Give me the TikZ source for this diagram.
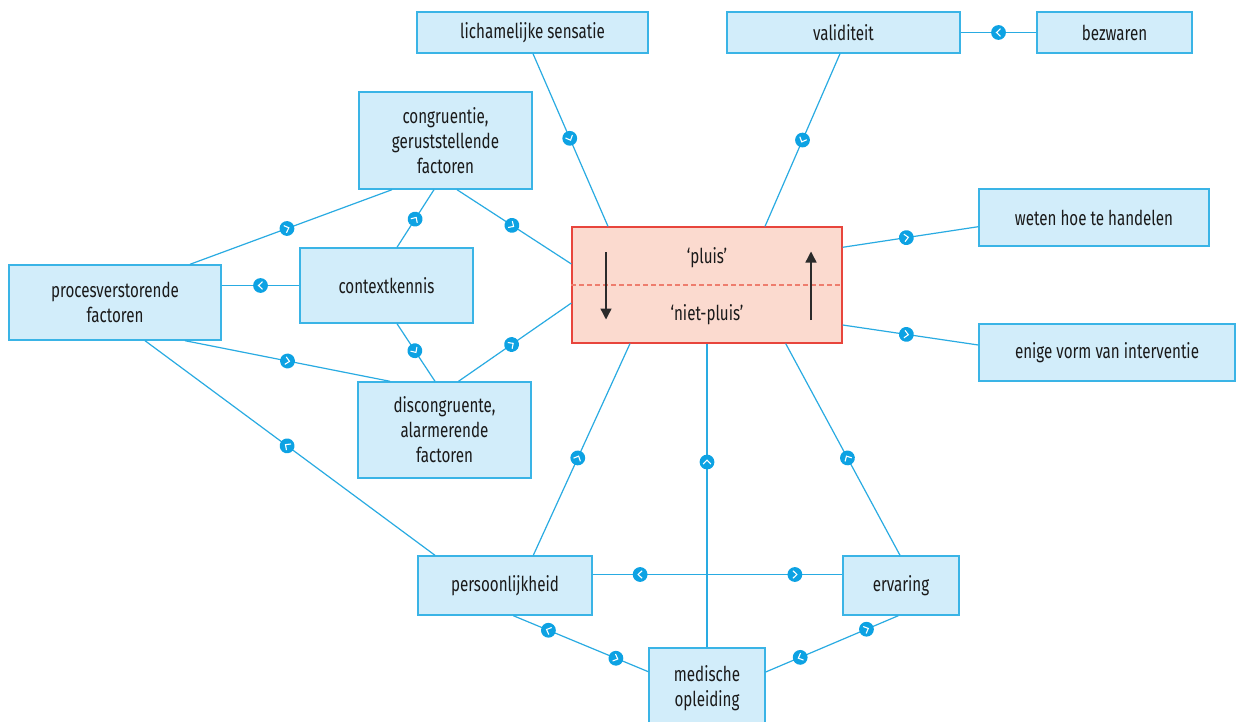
\documentclass[tikz,border=0pt]{standalone}
\usepackage{fontspec}
\setmainfont{Fira Sans}[FakeStretch=0.74]
\usetikzlibrary{decorations.markings,arrows.meta,calc}
\definecolor{boxfill}{HTML}{D2EDFA}
\definecolor{boxline}{HTML}{3AB4E6}
\definecolor{connc}{HTML}{29ABE2}
\definecolor{mk}{HTML}{0DA2E3}
\definecolor{redfill}{HTML}{FBDACF}
\definecolor{redline}{HTML}{E8453C}
\definecolor{reddash}{HTML}{EE7D6E}
\definecolor{txt}{HTML}{1A1A1A}
\definecolor{arrc}{HTML}{2B2B2B}
\newcommand\chevF{\fill[mk] (0pt,0pt) circle (7.4pt); \draw[white,line width=1.1pt] (-2pt,-3.8pt) -- (2pt,0pt) -- (-2pt,3.8pt);}
\newcommand\chevB{\fill[mk] (0pt,0pt) circle (7.4pt); \draw[white,line width=1.1pt] (2pt,-3.8pt) -- (-2pt,0pt) -- (2pt,3.8pt);}
\tikzset{
  bx/.style 2 args={draw=boxline, line width=1.4pt, fill=boxfill, text=txt, align=center, inner sep=0pt, minimum width=#1, minimum height=#2, font=\fontsize{20.5pt}{25pt}\selectfont},
  redbox/.style={draw=redline, line width=1.2pt, fill=redfill, inner sep=0pt, minimum width=270pt, minimum height=116pt},
  lbl/.style={text=txt, inner sep=0pt, font=\fontsize{20.5pt}{25pt}\selectfont},
  link/.style={draw=connc, line width=1.2pt},
  fm/.style={postaction={decorate,decoration={markings,mark=at position #1 with {\chevF}}}},
  bm/.style={postaction={decorate,decoration={markings,mark=at position #1 with {\chevB}}}},
  updown/.style={draw=arrc, line width=1.4pt, -{Triangle[width=11pt,length=11pt]}}
}
\begin{document}
\begin{tikzpicture}[x=1pt,y=-1pt]
\fill[white] (0,0) rectangle (1236,722);
\useasboundingbox (0,0) rectangle (1236,722);
% nodes
\node[bx={231pt}{41pt}] (lich) at (532.5,32.5) {lichamelijke sensatie};
\node[bx={233pt}{41pt}] (vali) at (843.5,32.5) {validiteit};
\node[bx={155pt}{41pt}] (bezw) at (1114.5,32.5) {bezwaren};
\node[bx={173pt}{97pt}] (cong) at (445.5,140.5) {congruentie,\\geruststellende\\factoren};
\node[bx={173pt}{75pt}] (ctx) at (386.5,285.5) {contextkennis};
\node[bx={212pt}{75pt}] (proc) at (115,302.5) {procesverstorende\\factoren};
\node[bx={173pt}{96pt}] (disc) at (444.5,430) {discongruente,\\alarmerende\\factoren};
\node[redbox] (red) at (707,285) {};
\node[bx={230pt}{57pt}] (wet) at (1094,217.5) {weten hoe te handelen};
\node[bx={256pt}{57pt}] (enig) at (1107,352.5) {enige vorm van interventie};
\node[bx={174pt}{59pt}] (pers) at (505,585.5) {persoonlijkheid};
\node[bx={116pt}{59pt}] (erv) at (901,585.5) {ervaring};
\node[bx={116pt}{80pt}] (med) at (707,688) {medische\\opleiding};
% red box content
\draw[reddash, line width=1.2pt, dash pattern=on 5pt off 3pt] (red.west) -- (red.east);
\node[lbl] (pl) at (707,258) {‘pluis’};
\node[lbl] (np) at (707,315) {‘niet-pluis’};
\draw[updown] ([xshift=-101pt,yshift=33pt]red.center) -- ([xshift=-101pt,yshift=-34.5pt]red.center);
\draw[updown] ([xshift=104pt,yshift=-35pt]red.center) -- ([xshift=104pt,yshift=33.5pt]red.center);
% connectors
\draw[link, fm=0.49] ([xshift=0.5pt]lich.south) -- ([xshift=-99pt]red.north);
\draw[link, fm=0.5] ([xshift=-3.5pt]vali.south) -- ([xshift=58pt]red.north);
\draw[link, fm=0.5] (bezw.west) -- (vali.east);
\draw[link, fm=0.48] ([xshift=11.5pt]cong.south) -- ([yshift=21pt]red.west);
\draw[link, fm=0.48] ([xshift=75pt]proc.north) -- ([xshift=-53.5pt]cong.south);
\draw[link, fm=0.49] ([xshift=10.5pt]ctx.north) -- ([xshift=-11.5pt]cong.south);
\draw[link, fm=0.5] (ctx.west) -- (ctx.west -| proc.east);
\draw[link, fm=0.47] ([xshift=10.5pt]ctx.south) -- ([xshift=-9.5pt]disc.north);
\draw[link, fm=0.5] ([xshift=70pt]proc.south) -- ([xshift=-54.5pt]disc.north);
\draw[link, fm=0.47] ([xshift=14pt]disc.north) -- ([yshift=-18pt]red.west);
\draw[link, fm=0.51] ([xshift=-70pt]pers.north) -- ([xshift=30pt]proc.south);
\draw[link, fm=0.46] ([xshift=28.3pt]pers.north) -- ([xshift=-77pt]red.south);
\draw[link, fm=0.61] (med.north) -- (red.south);
\draw[link, fm=0.46] ([xshift=-1pt]erv.north) -- ([xshift=78.7pt]red.south);
\draw[link, fm=0.47] ([yshift=37.7pt]red.east) -- ([yshift=-9.2pt]wet.west);
\draw[link, fm=0.47] ([yshift=-40pt]red.east) -- ([yshift=7.5pt]enig.west);
\draw[link, bm=0.19, fm=0.81] ([yshift=11pt]pers.east) -- ([yshift=11pt]pers.east -| erv.west);
\draw[link, bm=0.26, fm=0.76] ([xshift=8.3pt]pers.south) -- ([yshift=16.3pt]med.west);
\draw[link, bm=0.26, fm=0.76] ([yshift=16pt]med.east) -- ([xshift=-2.7pt]erv.south);
\end{tikzpicture}
\end{document}
